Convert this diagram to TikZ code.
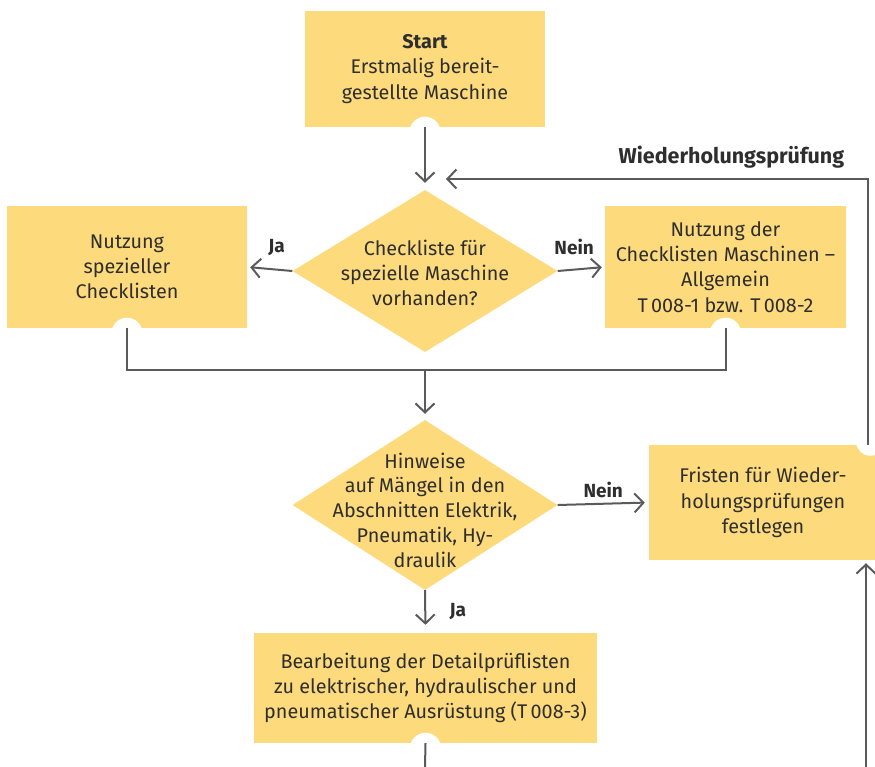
\documentclass[tikz,border=0pt]{standalone}
\usepackage{fontspec}
\setmainfont{Fira Sans}
\usetikzlibrary{positioning,shapes.geometric,arrows.meta}
\definecolor{boxyellow}{HTML}{FDDA7C}
\definecolor{linegray}{HTML}{5A5A5A}
\definecolor{txtgray}{HTML}{2E2E2E}

\begin{document}
\begin{tikzpicture}[x=1pt,y=-1pt,
  box/.style={fill=boxyellow, inner sep=0pt, align=center, text=txtgray, font=\fontsize{19.8}{25.2}\selectfont},
  decision/.style={diamond, fill=boxyellow, inner sep=0pt},
  dtext/.style={align=center, text=txtgray, font=\fontsize{19.8}{24.8}\selectfont},
  lbl/.style={text=txtgray, font=\fontsize{19}{22}\selectfont\bfseries},
  conn/.style={draw=linegray, line width=2pt},
  arr/.style={conn, -{Straight Barb[length=9pt,width=19pt,line width=2pt]}}]

\useasboundingbox (0,0) rectangle (875,767);

\node[box, minimum width=240pt, minimum height=116pt] (start) at (425,69) {{\bfseries Start}\\Erstmalig bereit-\\gestellte Maschine};
\node[decision, minimum width=265pt, minimum height=162pt] (check) at (425,271) {};
\node[dtext] (checktxt) at (425,273) {Checkliste für\\spezielle Maschine\\vorhanden?};
\node[box, minimum width=240pt, minimum height=122pt] (special) at (127,267) {Nutzung\\spezieller\\Checklisten};
\node[box, minimum width=241pt, minimum height=122pt] (general) at (725.5,267) {Nutzung der\\Checklisten Maschinen --\\Allgemein\\T\,008-1 bzw. T\,008-2};
\node[decision, minimum width=265pt, minimum height=170pt] (defects) at (425,505) {};
\node[dtext] (defectstxt) at (425,510) {Hinweise\\auf Mängel in den\\Abschnitten Elektrik,\\Pneumatik, Hy-\\draulik};
\node[box, minimum width=228pt, minimum height=115pt] (deadlines) at (763,502.5) {Fristen für Wieder-\\holungsprüfungen\\festlegen};
\node[box, minimum width=343pt, minimum height=110pt] (detail) at (425.5,688) {Bearbeitung der Detailprüflisten\\zu elektrischer, hydraulischer und\\pneumatischer Ausrüstung (T\,008-3)};

\fill[white] ([yshift=-5pt]start.south) circle (15.5);
\fill[white] ([yshift=-5pt]special.south) circle (15.5);
\fill[white] ([yshift=-5pt]general.south) circle (15.5);
\fill[white] ([yshift=-5pt]detail.south) circle (15.5);
\fill[white] ([xshift=-7pt,yshift=3pt]deadlines.north east) circle (14);

\coordinate (join) at (425,370);
\coordinate (repeat) at (446,179);
\coordinate (notch) at ([xshift=-9pt]deadlines.north east);
\coordinate (outlet) at (425,767);
\coordinate (inlet) at (866,767);

\draw[arr, shorten >=7pt] (start.south) -- (check.north);
\draw[arr, shorten >=3pt] (check.west) -- node[lbl, above=10pt, pos=0.35]{Ja} (special.east);
\draw[arr, shorten >=3pt] (check.east) -- node[lbl, above=10pt, pos=0.35]{Nein} (general.west);
\draw[conn] (special.south) |- (join) -| (general.south);
\draw[arr, shorten >=6pt] (join) -- (defects.north);
\draw[arr, shorten >=4pt] (defects.east) -- node[lbl, above=2pt]{Nein} (deadlines.west);
\draw[arr, shorten >=8pt] (defects.south) -- node[lbl, right=20pt]{Ja} (detail.north);
\draw[arr] (notch) |- node[lbl, pos=0.662, above=6pt, font=\fontsize{21.5}{24}\selectfont\bfseries]{Wiederholungsprüfung} (repeat);
\draw[conn] (detail.south) -- (outlet);
\draw[arr, shorten >=3pt] (inlet) -- (inlet |- deadlines.south);

\end{tikzpicture}
\end{document}
